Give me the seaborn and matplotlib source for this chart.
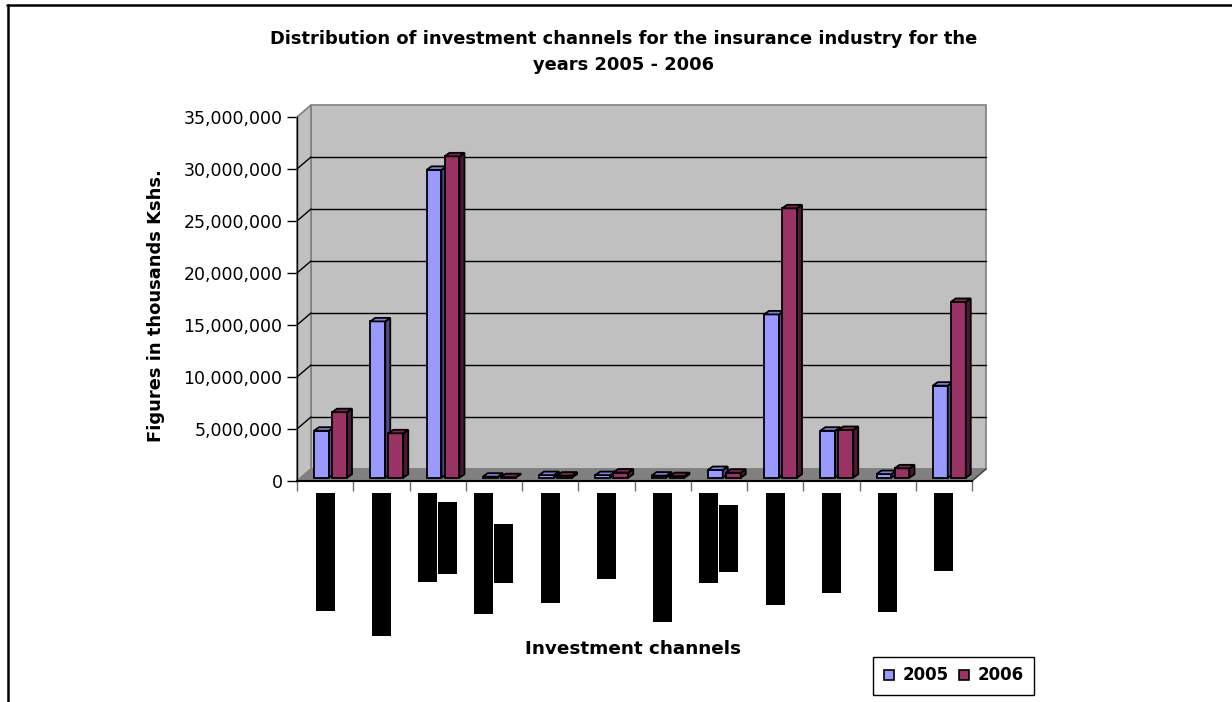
import numpy as np
import pandas as pd
import matplotlib
matplotlib.use("Agg")
import matplotlib.pyplot as plt
import matplotlib.transforms as mtransforms
from matplotlib.patches import Polygon
from matplotlib.lines import Line2D
import seaborn as sns

# ---- data -----------------------------------------------------------------
channels = ["Land & buildings", "Investment property", "Government\nsecurities",
            "Shares in related\nentities", "Mortgage loans", "Policy loans",
            "Statutory deposits", "Cash & bank\nbalances", "Quoted equities",
            "Term deposits", "Unquoted shares", "Unit trusts"]
years = ["2005", "2006"]
values_2005 = [4_520_000, 15_030_000, 29_600_000, 100_000, 250_000, 250_000,
               200_000, 740_000, 15_700_000, 4_520_000, 350_000, 8_850_000]
values_2006 = [6_300_000, 4_270_000, 30_900_000, 50_000, 200_000, 500_000,
               150_000, 480_000, 25_900_000, 4_590_000, 900_000, 16_900_000]
y_ticks = [0, 5_000_000, 10_000_000, 15_000_000, 20_000_000,
           25_000_000, 30_000_000, 35_000_000]

title = ("Distribution of investment channels for the insurance industry for the\n"
         "years 2005 - 2006")
x_title = "Investment channels"
y_title = "Figures in thousands Kshs."

# ---- style ----------------------------------------------------------------
W, H = 1232, 702
sns.set_theme(style="white")
plt.rcParams["font.family"] = ["DejaVu Sans"]
plt.rcParams["text.color"] = "black"
plt.rcParams["axes.labelcolor"] = "black"
plt.rcParams["xtick.color"] = "black"
plt.rcParams["ytick.color"] = "black"

front_colors = {"2005": "#9999FF", "2006": "#993366"}
top_colors = {"2005": "#8080DD", "2006": "#7A2952"}
side_colors = {"2005": "#4D4D80", "2006": "#4D1A33"}
WALL = "#C0C0C0"
FLOOR = "#808080"
DEPTH = np.array([14.0, 12.0])     # wall depth in pixels (right, up)
BAR_SHIFT = np.array([5.4, 3.3])   # bars sit a little behind the front plane
BAR_DEPTH = np.array([5.0, 3.5])   # depth of each 3D column

df = pd.DataFrame({
    "channel": channels * 2,
    "year": [years[0]] * len(channels) + [years[1]] * len(channels),
    "value": values_2005 + values_2006,
})

fig = plt.figure(figsize=(W / 100, H / 100), dpi=100)
ax = fig.add_axes([297 / W, 1 - 481 / H, 675 / W, 364 / H])
ax.patch.set_visible(False)

sns.barplot(data=df, x="channel", y="value", hue="year", hue_order=years,
            palette=[front_colors[y] for y in years], width=0.64, gap=0.17,
            edgecolor="black", linewidth=1.3, saturation=1, legend=False, ax=ax)
bars = list(ax.patches)

n = len(channels)
ax.set_xlim(-0.5, n - 0.5)
ax.set_ylim(0, 35_000_000)
ax.set_autoscale_on(False)
ax.set_xlabel("")
ax.set_ylabel("")

ident = mtransforms.IdentityTransform()


def px(x, y):
    return ax.transData.transform((x, y))


def add_poly(pts, fc, ec, lw, z):
    p = Polygon(np.asarray(pts), closed=True, facecolor=fc, edgecolor=ec,
                linewidth=lw, transform=ident, clip_on=False, zorder=z,
                joinstyle="miter")
    ax.add_patch(p)
    return p


def add_line(a, b, color, lw, z):
    ln = Line2D([a[0], b[0]], [a[1], b[1]], color=color, linewidth=lw,
                transform=ident, clip_on=False, zorder=z)
    ax.add_line(ln)


x_left, x_right = -0.5, n - 0.5
y_top = y_ticks[-1]

# back wall, side wall and floor
add_poly([px(x_left, 0) + DEPTH, px(x_right, 0) + DEPTH,
          px(x_right, y_top) + DEPTH, px(x_left, y_top) + DEPTH],
         WALL, FLOOR, 1.2, 0.5)
add_poly([px(x_left, 0), px(x_left, 0) + DEPTH,
          px(x_left, y_top) + DEPTH, px(x_left, y_top)],
         WALL, FLOOR, 1.2, 0.6)
add_poly([px(x_left, 0), px(x_right, 0),
          px(x_right, 0) + DEPTH, px(x_left, 0) + DEPTH],
         FLOOR, FLOOR, 1.0, 0.7)
add_line(px(x_right, 0), px(x_right, 0) + DEPTH, "#404040", 1.0, 0.8)

# gridlines on the walls
for v in y_ticks[1:-1]:
    add_line(px(x_left, v) + DEPTH, px(x_right, v) + DEPTH, "black", 1.0, 0.9)
    add_line(px(x_left, v), px(x_left, v) + DEPTH, "black", 1.0, 0.9)

# 3D columns: shift the seaborn bars back and add top and side faces
shift = mtransforms.ScaledTranslation(BAR_SHIFT[0] / 100, BAR_SHIFT[1] / 100,
                                      fig.dpi_scale_trans)
for k, bar in enumerate(bars):
    yr = years[k // n]
    cat = k % n
    z = 3 + cat * 0.1 + (0.05 if yr == years[1] else 0)
    bar.set_transform(ax.transData + shift)
    bar.set_zorder(z)
    bar.set_joinstyle("miter")
    x0, w, h = bar.get_x(), bar.get_width(), bar.get_height()
    bl = px(x0, 0) + BAR_SHIFT
    tr = px(x0 + w, h) + BAR_SHIFT
    xl, xr, yb, yt = bl[0], tr[0], bl[1], tr[1]
    dx, dy = BAR_DEPTH
    add_poly([(xr, yb), (xr + dx, yb + dy), (xr + dx, yt + dy), (xr, yt)],
             side_colors[yr], "black", 1.3, z)
    add_poly([(xl, yt), (xr, yt), (xr + dx, yt + dy), (xl + dx, yt + dy)],
             top_colors[yr], "black", 1.3, z)

# axes, ticks
for s in ("top", "right"):
    ax.spines[s].set_visible(False)
ax.spines["left"].set_color("black")
ax.spines["left"].set_linewidth(1.0)
ax.spines["bottom"].set_color("black")
ax.spines["bottom"].set_linewidth(1.5)
ax.spines["left"].set_zorder(1)
ax.spines["bottom"].set_zorder(1)

ax.set_yticks(y_ticks)
ax.set_yticklabels([f"{v:,.0f}" for v in y_ticks], fontsize=12.5, color="black")
ax.tick_params(axis="y", direction="out", length=7, width=1, color="black",
               labelcolor="black", pad=3.5, left=True)
ax.set_xticks(np.arange(-0.5, n, 1.0))
ax.set_xticklabels([])
ax.tick_params(axis="x", direction="out", length=7, width=1, color="#707070",
               bottom=True)

# category labels, one box per text line
lab_kw = dict(rotation=90, fontsize=8.2, fontweight="bold", color="black",
              annotation_clip=False, textcoords="offset pixels",
              bbox=dict(facecolor="black", edgecolor="none", pad=3.3))
for i, name in enumerate(channels):
    lines = name.split("\n")
    if len(lines) == 1:
        ax.annotate(lines[0], xy=(i, 0), xytext=(0, -17), ha="center", va="top",
                    **lab_kw)
    else:
        t1 = ax.annotate(lines[0], xy=(i, 0), xytext=(-10, -17), ha="center",
                         va="top", **lab_kw)
        ax.annotate(lines[1], xy=(0.5, 0.5), xycoords=t1, xytext=(20, 0),
                    ha="center", va="center", **lab_kw)

# titles
fig.text(624 / W, 1 - 52 / H, title, ha="center", va="center", fontsize=12.9,
         fontweight="bold", linespacing=1.6, color="black")
fig.text(156 / W, 1 - 306 / H, y_title, rotation=90, ha="center", va="center",
         fontsize=12.9, fontweight="bold", color="black")
fig.text(633 / W, 1 - 649 / H, x_title, ha="center", va="center", fontsize=13.2,
         fontweight="bold", color="black")

# legend
handles = [Line2D([], [], marker="s", linestyle="none", markersize=7.5,
                  markerfacecolor=front_colors[y], markeredgecolor="black",
                  markeredgewidth=1.2, label=y) for y in years]
leg = fig.legend(handles=handles, loc="center",
                 bbox_to_anchor=(953.5 / W, 1 - 675.5 / H), ncol=2,
                 frameon=True, fancybox=False, edgecolor="black", framealpha=1,
                 prop={"weight": "bold", "size": 12}, handlelength=0.7,
                 handletextpad=0.45, columnspacing=0.6, borderpad=0.6,
                 borderaxespad=0)
leg.get_frame().set_linewidth(1.0)
for t in leg.get_texts():
    t.set_color("black")

# page frame
fig.add_artist(Line2D([7 / W, 1], [1 - 5 / H, 1 - 5 / H], color="black",
                      linewidth=1.8, transform=fig.transFigure))
fig.add_artist(Line2D([7.5 / W, 7.5 / W], [0, 1 - 5 / H], color="black",
                      linewidth=1.8, transform=fig.transFigure))

fig.savefig("out.png", dpi=100)
